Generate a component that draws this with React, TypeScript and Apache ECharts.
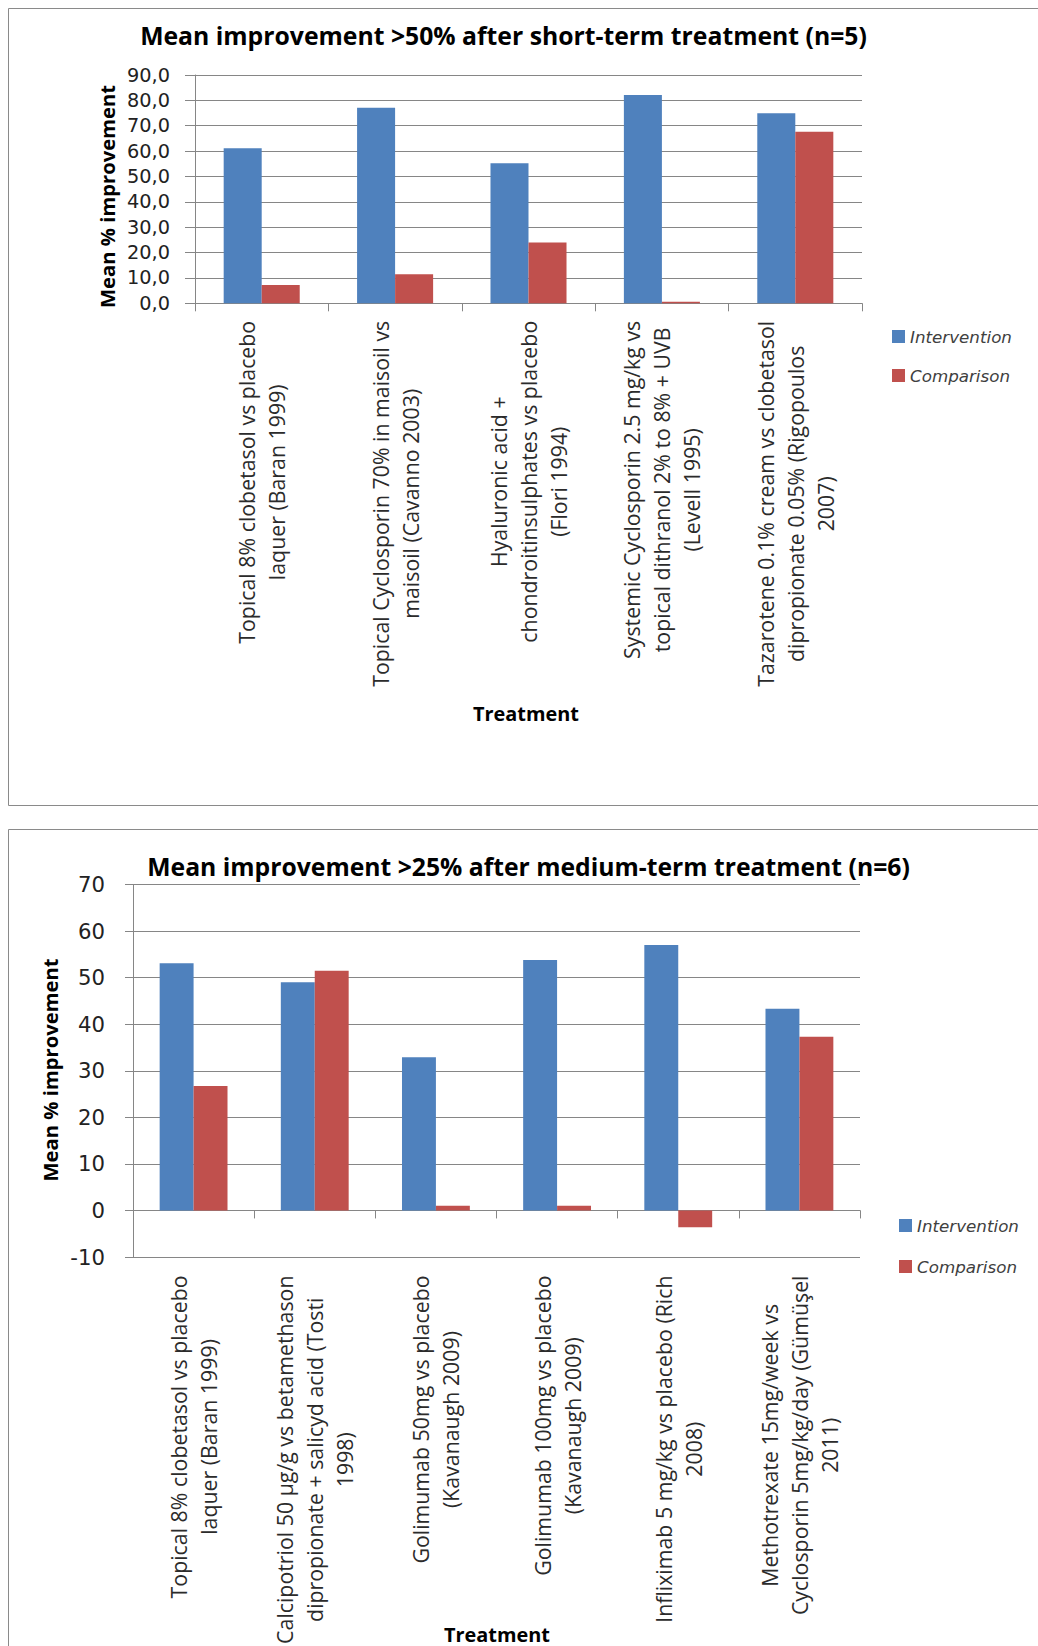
import React, { useEffect, useRef } from 'react';
import * as echarts from 'echarts';

// ---------- data ----------
const seriesNames = ['Intervention', 'Comparison'];

const shortCategories = [
  'Topical 8% clobetasol vs placebo\nlaquer (Baran 1999)',
  'Topical Cyclosporin 70% in maisoil vs\nmaisoil (Cavanno 2003)',
  'Hyaluronic acid +\nchondroitinsulphates vs placebo\n(Flori 1994)',
  'Systemic Cyclosporin 2.5 mg/kg vs\ntopical dithranol 2% to 8% + UVB\n(Levell 1995)',
  'Tazarotene 0.1% cream vs clobetasol\ndipropionate 0.05% (Rigopoulos\n2007)',
];
const shortIntervention = [61.1, 77.1, 55.2, 82.1, 74.9];
const shortComparison = [7.2, 11.5, 24.0, 0.6, 67.6];
const shortYTicks = [0, 10, 20, 30, 40, 50, 60, 70, 80, 90];

const mediumCategories = [
  'Topical 8% clobetasol vs placebo\nlaquer (Baran 1999)',
  'Calcipotriol 50 µg/g vs betamethason\ndipropionate + salicyd acid (Tosti\n1998)',
  'Golimumab 50mg vs placebo\n(Kavanaugh 2009)',
  'Golimumab 100mg vs placebo\n(Kavanaugh 2009)',
  'Infliximab 5 mg/kg vs placebo (Rich\n2008)',
  'Methotrexate 15mg/week vs\nCyclosporin 5mg/kg/day (Gümüşel\n2011)',
];
const mediumIntervention = [53.1, 49.0, 32.9, 53.8, 57.0, 43.3];
const mediumComparison = [26.7, 51.5, 1.0, 1.0, -3.6, 37.3];
const mediumYTicks = [-10, 0, 10, 20, 30, 40, 50, 60, 70];

const shortTitle = 'Mean improvement >50% after short-term treatment (n=5)';
const mediumTitle = 'Mean improvement >25% after medium-term treatment (n=6)';
const yName = 'Mean % improvement';
const xName = 'Treatment';

// ---------- styling ----------
const BLUE = '#4F81BD';
const RED = '#C0504D';
const GRID_COLOR = '#868686';
const FONT = 'Open Sans';
const TICK_FONT = 'DejaVu Sans';
const LEGEND_FONT = 'DejaVu Sans';

export default function App() {
  const ref = useRef<HTMLDivElement>(null);

  useEffect(() => {
    const el = ref.current;
    if (!el) return;
    const chart = echarts.init(el, undefined, { renderer: 'svg' });

    const ctx = document.createElement('canvas').getContext('2d') as CanvasRenderingContext2D;
    const measure = (text: string, size: number, family: string, weight = 'normal', style = 'normal') => {
      ctx.font = `${style} ${weight} ${size}px "${family}"`;
      return ctx.measureText(text).width;
    };
    const fit = (text: string, target: number, family: string, weight = 'normal', style = 'normal') =>
      (100 * target) / measure(text, 100, family, weight, style);

    const titleSizeTop = fit(shortTitle, 727, FONT, 'bold');
    const titleSizeBottom = fit(mediumTitle, 763, FONT, 'bold');
    const yNameSize = fit(yName, 223, FONT, 'bold');
    const xNameSize = fit(xName, 106, FONT, 'bold');
    const labelSize = fit('Topical 8% clobetasol vs placebo', 323, FONT);
    const tickSizeTop = Math.min(fit('90,0', 43, TICK_FONT), 19.5);
    const tickSizeBottom = fit('70', 27, TICK_FONT);
    const legendSize = fit('Intervention', 102, LEGEND_FONT, 'normal', 'italic');
    const LINE_H = 30;

    const buildRich = (cats: string[]) => {
      const rich: Record<string, any> = {};
      cats.forEach((c, i) => {
        const w = Math.max(...c.split('\n').map((l) => measure(l, labelSize, FONT))) + 1;
        rich['c' + i] = {
          width: w,
          align: 'center',
          fontSize: labelSize,
          fontFamily: FONT,
          lineHeight: LINE_H,
          color: '#2b2b2b',
        };
      });
      return rich;
    };
    const labelFormatter = (value: string, index: number) =>
      value
        .split('\n')
        .map((l) => `{c${index}|${l}}`)
        .join('\n');

    const yAxisBase = (ticks: number[], tickLen: number, margin: number, size: number, fmt: (v: number) => string) => ({
      type: 'value',
      min: ticks[0],
      max: ticks[ticks.length - 1],
      interval: ticks[1] - ticks[0],
      axisLine: { show: true, lineStyle: { color: GRID_COLOR, width: 1 } },
      axisTick: { show: true, length: tickLen, inside: false, lineStyle: { color: GRID_COLOR, width: 1 } },
      splitLine: { show: true, lineStyle: { color: GRID_COLOR, width: 1 } },
      axisLabel: {
        margin,
        fontSize: size,
        lineHeight: Math.round(size * 1.1),
        fontFamily: TICK_FONT,
        color: '#222',
        formatter: fmt,
      },
    });

    const xAxisBase = (cats: string[], gridIndex: number, margin: number) => ({
      type: 'category',
      gridIndex,
      data: cats,
      axisLine: { show: true, onZero: true, lineStyle: { color: GRID_COLOR, width: 1 } },
      axisTick: { show: true, length: 8, inside: false, alignWithLabel: false, lineStyle: { color: GRID_COLOR, width: 1 } },
      splitLine: { show: false },
      axisLabel: {
        interval: 0,
        rotate: 90,
        margin,
        formatter: labelFormatter,
        rich: buildRich(cats),
      },
    });

    const legendBase = (left: number, top: number, gap: number) => ({
      orient: 'vertical',
      left,
      top,
      padding: 0,
      itemWidth: 13,
      itemHeight: 13,
      itemGap: gap,
      icon: 'rect',
      data: seriesNames,
      textStyle: {
        fontFamily: LEGEND_FONT,
        fontStyle: 'italic',
        fontSize: legendSize,
        lineHeight: 14,
        color: '#404040',
      },
    });

    const text = (x: number, y: number, str: string, size: number, rotation = 0) => ({
      type: 'text',
      x,
      y,
      rotation,
      silent: true,
      style: {
        text: str,
        fontFamily: FONT,
        fontWeight: 'bold',
        fontSize: size,
        fill: '#000',
        align: 'center',
        verticalAlign: 'middle',
      },
    });

    const option: any = {
      animation: false,
      backgroundColor: '#ffffff',
      grid: [
        { left: 195, top: 75, width: 667, height: 228.3, containLabel: false, outerBoundsMode: 'none' },
        { left: 133, top: 884.5, width: 727, height: 372.5, containLabel: false, outerBoundsMode: 'none' },
      ],
      xAxis: [xAxisBase(shortCategories, 0, 17), xAxisBase(mediumCategories, 1, 18)],
      yAxis: [
        { ...yAxisBase(shortYTicks, 10, 25, tickSizeTop, (v: number) => v.toFixed(1).replace('.', ',')), gridIndex: 0 },
        { ...yAxisBase(mediumYTicks, 8, 28, tickSizeBottom, (v: number) => String(v)), gridIndex: 1 },
      ],
      legend: [legendBase(892, 328, 22), legendBase(899, 1217, 24)],
      series: [
        {
          name: seriesNames[0],
          type: 'bar',
          xAxisIndex: 0,
          yAxisIndex: 0,
          data: shortIntervention,
          barGap: '0%',
          barCategoryGap: '43%',
          itemStyle: { color: BLUE },
        },
        {
          name: seriesNames[1],
          type: 'bar',
          xAxisIndex: 0,
          yAxisIndex: 0,
          data: shortComparison,
          barGap: '0%',
          barCategoryGap: '43%',
          itemStyle: { color: RED },
        },
        {
          name: seriesNames[0],
          type: 'bar',
          xAxisIndex: 1,
          yAxisIndex: 1,
          data: mediumIntervention,
          barGap: '0%',
          barCategoryGap: '44%',
          itemStyle: { color: BLUE },
        },
        {
          name: seriesNames[1],
          type: 'bar',
          xAxisIndex: 1,
          yAxisIndex: 1,
          data: mediumComparison,
          barGap: '0%',
          barCategoryGap: '44%',
          itemStyle: { color: RED },
        },
      ],
      graphic: [
        {
          type: 'rect',
          silent: true,
          shape: { x: 8.5, y: 8.5, width: 1040, height: 797 },
          style: { fill: 'none', stroke: '#8a8a8a', lineWidth: 1 },
        },
        {
          type: 'rect',
          silent: true,
          shape: { x: 8.5, y: 829.5, width: 1040, height: 830 },
          style: { fill: 'none', stroke: '#8a8a8a', lineWidth: 1 },
        },
        text(503.5, 35, shortTitle, titleSizeTop),
        text(528.5, 866.5, mediumTitle, titleSizeBottom),
        text(107, 196.5, yName, yNameSize, Math.PI / 2),
        text(50, 1070, yName, yNameSize, Math.PI / 2),
        text(526, 713, xName, xNameSize),
        text(497, 1634, xName, xNameSize),
      ],
    };

    chart.setOption(option);
    return () => chart.dispose();
  }, []);

  return (
    <div
      ref={ref}
      style={{ position: 'absolute', left: 0, top: 0, width: 1038, height: 1646, background: '#ffffff' }}
    />
  );
}
